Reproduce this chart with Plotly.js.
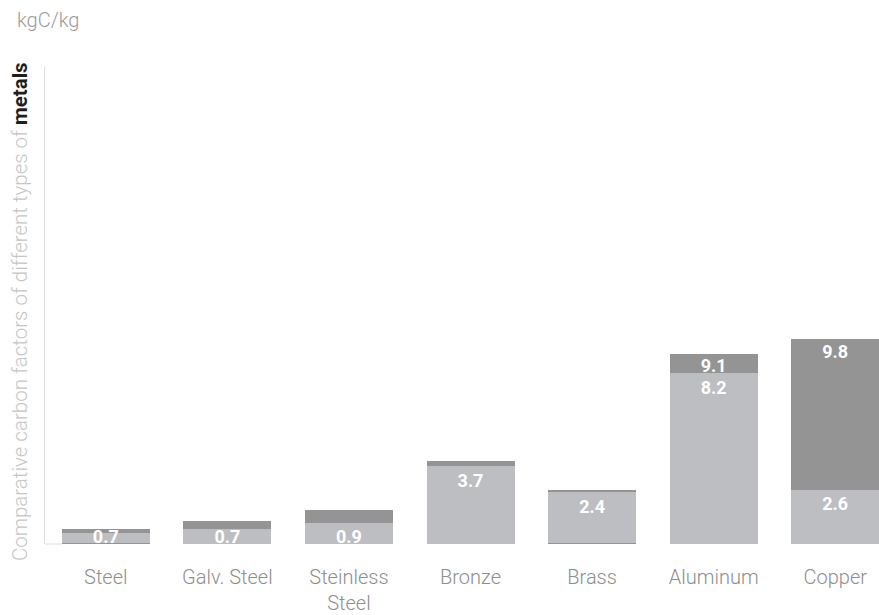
<!DOCTYPE html>
<html>
<head>
<meta charset="utf-8">
<script src="https://cdn.plot.ly/plotly-3.0.1.min.js"></script>
<style>html,body{margin:0;padding:0;background:#fff;}#chart{width:879px;height:615px;}</style>
</head>
<body>
<div id="chart"></div>
<script>
// Categories and tick labels
var categories = ['Steel', 'Galv. Steel', 'Steinless Steel', 'Bronze', 'Brass', 'Aluminum', 'Copper'];
var tickLabels = ['Steel', 'Galv. Steel', 'Steinless<br>Steel', 'Bronze', 'Brass', 'Aluminum', 'Copper'];

// Series values (kgC/kg)
var baseValues  = [0.07, 0, 0, 0, 0.07, 0, 0];           // thin dark base line
var lightValues = [0.48, 0.74, 1.0, 3.72, 2.41, 8.2, 2.6]; // light grey segment
var darkValues  = [0.19, 0.34, 0.64, 0.28, 0.13, 0.9, 7.2]; // dark grey top segment

// Printed labels
var lightLabels = ['0.7', '0.7', '0.9', '3.7', '2.4', '8.2', '2.6'];
var darkLabels  = ['', '', '', '', '', '9.1', '9.8'];

var xIdx = categories.map(function(c, i){ return i; });
var lightTop = baseValues.map(function(b, i){ return b + lightValues[i]; });
var totalTop = lightTop.map(function(v, i){ return v + darkValues[i]; });
// keep white labels inside the bar area (short bars): anchor no lower than this
var LABEL_MIN = 1.05;
var lightLabelY = lightTop.map(function(v){ return Math.max(v, LABEL_MIN); });

var DARK = '#949494';
var LIGHT = '#bcbec1';
var labelFont = {family: 'Roboto, Arial, sans-serif', size: 18, color: '#ffffff', weight: 700};

var traces = [
  {
    type: 'bar', x: xIdx, y: baseValues, marker: {color: DARK},
    hoverinfo: 'skip', showlegend: false
  },
  {
    type: 'bar', x: xIdx, y: lightValues, marker: {color: LIGHT},
    hoverinfo: 'skip', showlegend: false
  },
  {
    type: 'bar', x: xIdx, y: darkValues, marker: {color: DARK},
    hoverinfo: 'skip', showlegend: false
  },
  {
    type: 'scatter', mode: 'markers+text', x: xIdx, y: lightLabelY, text: lightLabels,
    textposition: 'bottom center', textfont: labelFont, cliponaxis: false,
    marker: {size: 10, color: 'rgba(0,0,0,0)'}, hoverinfo: 'skip', showlegend: false
  },
  {
    type: 'scatter', mode: 'markers+text', x: xIdx, y: totalTop, text: darkLabels,
    textposition: 'bottom center', textfont: labelFont, cliponaxis: false,
    marker: {size: 6, color: 'rgba(0,0,0,0)'}, hoverinfo: 'skip', showlegend: false
  }
];

var layout = {
  width: 879, height: 615,
  margin: {l: 45, r: 0, t: 66, b: 71},
  paper_bgcolor: '#ffffff', plot_bgcolor: '#ffffff',
  barmode: 'stack',
  bargap: 0.276,
  font: {family: 'Roboto, sans-serif', color: '#8c8c8c'},
  xaxis: {
    range: [-0.5, 6.36],
    tickmode: 'array', tickvals: xIdx, ticktext: tickLabels,
    showgrid: false, zeroline: false, showline: false, ticks: '',
    ticklabelstandoff: 19,
    tickfont: {family: 'Roboto, sans-serif', size: 20, color: '#8e8e8e', weight: 300}
  },
  yaxis: {
    range: [0, 22.9],
    showgrid: false, zeroline: false, showticklabels: false, ticks: '',
    showline: true, linecolor: '#dedede', linewidth: 1
  },
  shapes: [
    {type: 'line', xref: 'paper', yref: 'paper', x0: 0, x1: 0.02, y0: 0, y1: 0,
     line: {color: '#dedede', width: 1}}
  ],
  annotations: [
    {
      text: 'kgC/kg', xref: 'paper', yref: 'paper',
      x: -0.036, y: 1.126, xanchor: 'left', yanchor: 'top', showarrow: false,
      font: {family: 'Roboto, sans-serif', size: 20, color: '#9a9a9a', weight: 300}
    },
    {
      text: 'Comparative carbon factors of different types of <span style="color:#1e1e1e;font-weight:bold">metals</span>',
      xref: 'paper', yref: 'paper', x: 0, y: 0.5, xanchor: 'center', yanchor: 'middle',
      xshift: -25, yshift: -7, textangle: -90, showarrow: false,
      font: {family: 'Roboto, sans-serif', size: 20.5, color: '#c6c6c6', weight: 300}
    }
  ]
};

Plotly.newPlot('chart', traces, layout, {displayModeBar: false, staticPlot: true});
</script>
</body>
</html>
